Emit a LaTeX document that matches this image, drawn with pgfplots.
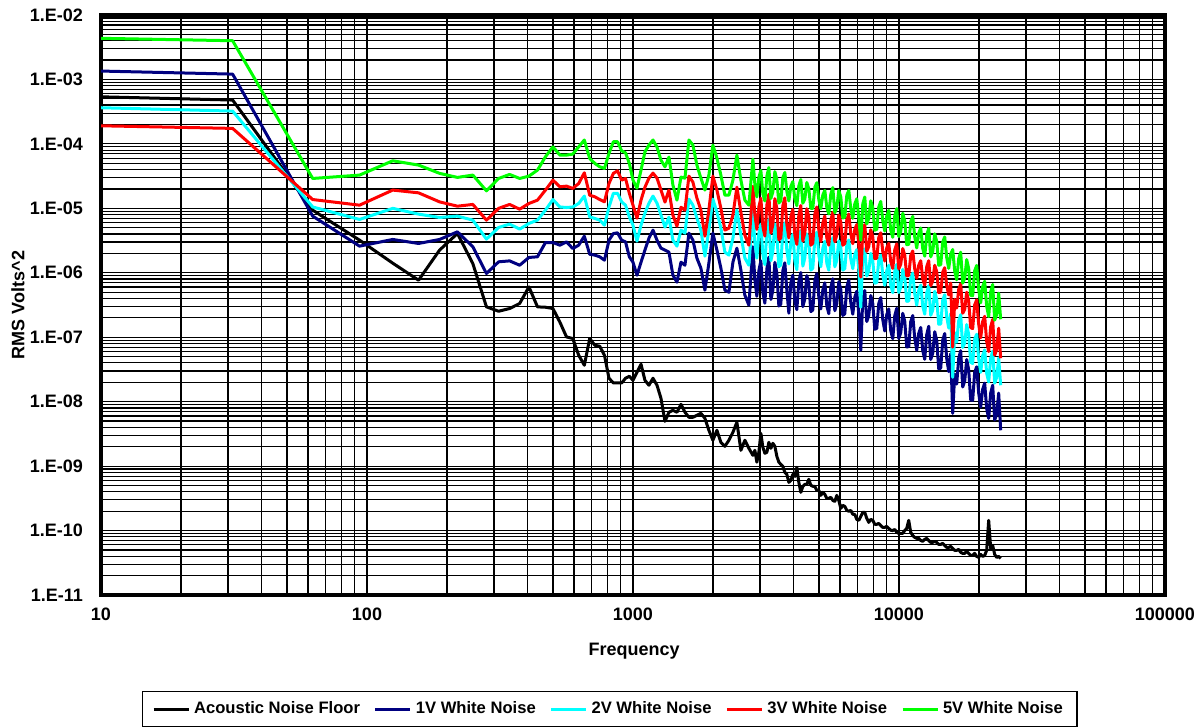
\documentclass[border=0pt]{standalone}
\usepackage{fontspec}
\setmainfont{Liberation Sans}
\usepackage{pgfplots}
\usepackage{pgfplotstable}
\pgfplotsset{compat=1.18}

\definecolor{navyline}{RGB}{0,0,128}
\definecolor{cyanline}{RGB}{0,255,255}
\definecolor{redline}{RGB}{255,0,0}
\definecolor{greenline}{RGB}{0,255,0}

% f = frequency, an = acoustic noise floor, v1..v5 = white noise drive levels
\pgfplotstableread{
f an v1 v2 v3 v5
10 5.38e-4 1.35e-3 3.64e-4 1.91e-4 4.35e-3
31.25 4.79e-4 1.21e-3 3.23e-4 1.74e-4 3.99e-3
62.5 9.38e-6 7.57e-6 1.05e-5 1.37e-5 2.91e-5
93.75 3.21e-6 2.59e-6 6.73e-6 1.12e-5 3.28e-5
125 1.41e-6 3.29e-6 1.0e-5 1.92e-5 5.47e-5
156.25 7.67e-7 2.85e-6 8.13e-6 1.74e-5 4.69e-5
187.5 2.25e-6 3.29e-6 7.22e-6 1.26e-5 3.49e-5
218.75 4.07e-6 4.32e-6 7.57e-6 1.08e-5 3.02e-5
250 1.39e-6 2.53e-6 6.56e-6 1.15e-5 3.28e-5
281.25 2.96e-7 9.75e-7 3.33e-6 6.56e-6 1.87e-5
312.5 2.53e-7 1.48e-6 5.05e-6 1.0e-5 2.91e-5
343.75 2.79e-7 1.53e-6 5.69e-6 1.15e-5 3.36e-5
375 3.34e-7 1.31e-6 4.76e-6 9.7e-6 2.91e-5
406.25 6.04e-7 1.73e-6 5.83e-6 1.19e-5 3.16e-5
437.5 2.96e-7 1.77e-6 6.56e-6 1.34e-5 3.92e-5
468.75 2.92e-7 2.95e-6 9.38e-6 1.92e-5 6.31e-5
500 2.79e-7 2.95e-6 1.37e-5 2.74e-5 9.0e-5
531.25 1.71e-7 2.68e-6 1.05e-5 2.16e-5 6.7e-5
562.5 1.01e-7 3.02e-6 1.03e-5 2.21e-5 6.7e-5
593.75 9.55e-8 2.38e-6 1.05e-5 2.04e-5 6.94e-5
625 5.25e-8 2.68e-6 1.19e-5 2.43e-5 9.0e-5
656.25 3.68e-8 3.7e-6 1.55e-5 3.56e-5 1.15e-4
687.5 9.55e-8 1.94e-6 7.38e-6 1.6e-5 5.95e-5
718.75 7.51e-8 1.88e-6 6.97e-6 1.51e-5 4.98e-5
750 7.25e-8 1.77e-6 6.56e-6 1.37e-5 4.41e-5
781.25 5.25e-8 1.57e-6 5.48e-6 1.26e-5 4.17e-5
812.5 2.31e-8 3.21e-6 1.05e-5 2.43e-5 7.12e-5
843.75 1.95e-8 4.07e-6 1.71e-5 3.49e-5 1.08e-4
875 1.95e-8 4.17e-6 1.71e-5 3.82e-5 1.08e-4
906.25 1.95e-8 3.21e-6 1.26e-5 2.74e-5 7.82e-5
937.5 2.31e-8 3.02e-6 1.12e-5 2.91e-5 7.27e-5
968.75 2.48e-8 1.77e-6 7.38e-6 1.71e-5 4.98e-5
1000 2.15e-8 1.46e-6 5.48e-6 1.12e-5 2.74e-5
1035 2.86e-8 9.17e-7 3.1e-6 7.04e-6 2.06e-5
1072 3.81e-8 1.46e-6 5.48e-6 1.34e-5 3.92e-5
1109 2.15e-8 2.25e-6 8.42e-6 2.13e-5 7.54e-5
1148 1.8e-8 3.44e-6 1.2e-5 2.94e-5 9.58e-5
1189 2.31e-8 4.59e-6 1.55e-5 3.52e-5 1.15e-4
1231 1.8e-8 3.21e-6 1.2e-5 2.94e-5 8.92e-5
1274 1.13e-8 2.41e-6 7.84e-6 1.92e-5 5.6e-5
1319 4.96e-9 2.25e-6 5.11e-6 1.25e-5 4.41e-5
1365 6.85e-9 2.09e-6 7.3e-6 1.92e-5 6.24e-5
1413 7.35e-9 9.17e-7 3.21e-6 7.84e-6 2.29e-5
1463 6.85e-9 7.14e-7 2.59e-6 5.29e-6 1.34e-5
1515 9.11e-9 1.46e-6 4.59e-6 1.04e-5 3.05e-5
1568 6.85e-9 1.31e-6 4.12e-6 9.38e-6 2.94e-5
1623 5.73e-9 4.12e-6 1.39e-5 3.16e-5 1.15e-4
1680 5.73e-9 3.21e-6 1.12e-5 2.55e-5 9.58e-5
1739 6.15e-9 1.69e-6 7.04e-6 1.44e-5 4.69e-5
1800 6.6e-9 1.18e-6 4.59e-6 9.38e-6 2.94e-5
1864 5.52e-9 5.37e-7 1.81e-6 3.7e-6 1.92e-5
1929 3.6e-9 1.41e-6 4.59e-6 9.38e-6 3.28e-5
1997 2.52e-9 4.12e-6 1.39e-5 3.16e-5 9.58e-5
2068 3.6e-9 2.25e-6 8.73e-6 1.92e-5 6.02e-5
2140 2.34e-9 1.18e-6 4.93e-6 1.0e-5 3.28e-5
2216 2.03e-9 5.37e-7 2.09e-6 4.59e-6 1.6e-5
2294 2.52e-9 5.0e-7 1.88e-6 4.93e-6 1.6e-5
2375 3.35e-9 1.46e-6 3.44e-6 7.84e-6 2.74e-5
2458 4.79e-9 2.41e-6 9.38e-6 2.13e-5 6.7e-5
2545 1.76e-9 1.1e-6 3.83e-6 8.73e-6 2.74e-5
2634 2.52e-9 4.49e-7 1.69e-6 3.83e-6 1.34e-5
2727 1.89e-9 3.14e-7 1.31e-6 2.68e-6 1.12e-5
2823 1.47e-9 2.54e-6 9.0e-6 2.2e-5 5.8e-5
2872 1.76e-9 7.79e-7 2.94e-6 7.93e-6 2.35e-5
2922 1.15e-9 4.32e-7 1.69e-6 4.72e-6 1.5e-5
2973 1.64e-9 1.08e-6 4.06e-6 1.05e-5 3.02e-5
3025 3.23e-9 1.53e-6 5.69e-6 1.43e-5 3.9e-5
3078 1.96e-9 4.93e-7 1.93e-6 5.24e-6 1.68e-5
3132 1.58e-9 3.37e-7 1.34e-6 3.71e-6 1.3e-5
3187 1.64e-9 1.16e-6 4.47e-6 1.13e-5 3.18e-5
3242 2.34e-9 1.75e-6 6.76e-6 1.66e-5 4.3e-5
3299 1.89e-9 3.85e-7 1.54e-6 4.12e-6 1.42e-5
3356 2.26e-9 5.33e-7 2.13e-6 5.56e-6 1.8e-5
3415 2.03e-9 1.45e-6 5.74e-6 1.41e-5 3.71e-5
3474 1.42e-9 1.0e-6 4.02e-6 1.0e-5 2.8e-5
3535 1.15e-9 3.05e-7 1.24e-6 3.25e-6 1.21e-5
3596 1.07e-9 3.27e-7 1.33e-6 3.46e-6 1.3e-5
3659 9.93e-10 1.08e-6 4.43e-6 1.1e-5 2.99e-5
3723 8.0e-10 1.43e-6 5.98e-6 1.46e-5 3.6e-5
3788 7.46e-10 5.41e-7 2.24e-6 5.62e-6 1.83e-5
3854 5.6e-10 2.36e-7 1.37e-6 3.47e-6 1.3e-5
3921 6.02e-10 6.99e-7 2.95e-6 7.3e-6 2.19e-5
3990 7.46e-10 9.2e-7 3.95e-6 9.7e-6 2.6e-5
4060 6.94e-10 3.66e-7 1.54e-6 3.81e-6 1.4e-5
4130 9.6e-10 2.68e-7 1.12e-6 2.76e-6 1.1e-5
4202 5.6e-10 7.27e-7 3.17e-6 7.79e-6 2.23e-5
4275 3.92e-10 1.01e-6 4.54e-6 1.11e-5 2.8e-5
4350 4.86e-10 2.99e-7 1.27e-6 3.11e-6 1.2e-5
4426 5.22e-10 3.94e-7 1.70e-6 4.17e-6 1.4e-5
4503 5.22e-10 9.05e-7 4.02e-6 9.86e-6 2.52e-5
4582 6.24e-10 6.76e-7 2.98e-6 7.3e-6 2.0e-5
4662 5.03e-10 2.5e-7 1.1e-6 2.68e-6 9.96e-6
4743 4.86e-10 2.65e-7 1.18e-6 2.88e-6 1.0e-5
4826 4.86e-10 7.46e-7 3.29e-6 8.13e-6 2.12e-5
4910 4.21e-10 9.7e-7 4.26e-6 1.05e-5 2.5e-5
4996 4.21e-10 4.2e-7 1.88e-6 4.6e-6 1.36e-5
5083 3.52e-10 2.75e-7 1.24e-6 3.06e-6 9.9e-6
5172 3.92e-10 5.39e-7 2.4e-6 5.91e-6 1.61e-5
5262 3.65e-10 7.0e-7 3.07e-6 7.62e-6 1.9e-5
5354 3.16e-10 3.06e-7 1.41e-6 3.47e-6 1.03e-5
5447 3.16e-10 2.32e-7 1.10e-6 2.68e-6 8.2e-6
5542 3.28e-10 5.87e-7 2.6e-6 6.47e-6 1.66e-5
5639 2.94e-10 8.1e-7 3.5e-6 8.7e-6 2.1e-5
5738 2.84e-10 2.58e-7 1.24e-6 3.03e-6 8.54e-6
5837 3.52e-10 3.34e-7 1.56e-6 3.83e-6 1.03e-5
5939 2.94e-10 7.27e-7 3.13e-6 7.87e-6 1.9e-5
6043 2.21e-10 5.52e-7 2.45e-6 6.13e-6 1.5e-5
6149 2.46e-10 2.18e-7 1.1e-6 2.68e-6 7.07e-6
6256 2.37e-10 2.31e-7 1.16e-6 2.84e-6 7.3e-6
6365 2.06e-10 6.04e-7 2.65e-6 6.63e-6 1.59e-5
6476 1.99e-10 7.73e-7 3.23e-6 8.18e-6 1.9e-5
6589 2.06e-10 3.45e-7 1.64e-6 4.06e-6 9.89e-6
6704 1.79e-10 2.28e-7 1.16e-6 2.83e-6 7.0e-6
6821 1.78e-10 4.17e-7 1.91e-6 4.7e-6 1.17e-5
6940 1.49e-10 5.18e-7 2.29e-6 5.62e-6 1.41e-5
7061 1.44e-10 2.31e-7 1.15e-6 2.8e-6 7.17e-6
7184 1.66e-10 6.28e-8 2.92e-7 8.55e-7 3.2e-6
7310 1.92e-10 4.03e-7 1.84e-6 4.44e-6 1.17e-5
7437 1.92e-10 5.33e-7 2.35e-6 5.59e-6 1.5e-5
7567 1.55e-10 1.75e-7 8.92e-7 2.15e-6 5.74e-6
7699 1.34e-10 2.17e-7 1.07e-6 2.56e-6 6.95e-6
7834 1.49e-10 4.44e-7 2.0e-6 4.65e-6 1.31e-5
7970 1.44e-10 3.33e-7 1.55e-6 3.61e-6 1.02e-5
8109 1.25e-10 1.33e-7 6.9e-7 1.66e-6 4.58e-6
8250 1.25e-10 1.37e-7 7.02e-7 1.68e-6 4.72e-6
8394 1.29e-10 3.34e-7 1.56e-6 3.53e-6 1.05e-5
8541 1.2e-10 4.12e-7 1.88e-6 4.18e-6 1.28e-5
8690 1.12e-10 1.88e-7 9.28e-7 2.15e-6 6.4e-6
8841 1.12e-10 1.25e-7 6.4e-7 1.52e-6 4.44e-6
8996 1.16e-10 2.24e-7 1.08e-6 2.44e-6 7.59e-6
9153 1.08e-10 2.75e-7 1.31e-6 2.87e-6 9.3e-6
9313 1.01e-10 1.26e-7 6.4e-7 1.49e-6 4.57e-6
9475 1.0e-10 9.5e-8 4.92e-7 1.17e-6 3.55e-6
9641 1.04e-10 2.16e-7 1.05e-6 2.28e-6 7.65e-6
9809 9.38e-11 2.82e-7 1.35e-6 2.82e-6 9.9e-6
9981 9.05e-11 9.58e-8 4.93e-7 1.15e-6 3.64e-6
10154 9.05e-11 1.18e-7 5.95e-7 1.36e-6 4.4e-6
10332 9.05e-11 2.35e-7 1.13e-6 2.38e-6 8.4e-6
10511 1.0e-10 1.76e-7 8.5e-7 1.88e-6 6.37e-6
10695 1.08e-10 7.04e-8 3.61e-7 8.95e-7 2.73e-6
10881 1.44e-10 7.17e-8 3.64e-7 9.08e-7 2.76e-6
11071 9.38e-11 1.75e-7 8.25e-7 1.85e-6 6.22e-6
11264 8.4e-11 2.17e-7 9.9e-7 2.18e-6 7.5e-6
11461 7.84e-11 9.68e-8 4.69e-7 1.15e-6 3.6e-6
11661 7.57e-11 6.28e-8 3.15e-7 8.24e-7 2.43e-6
11865 7.57e-11 1.15e-7 5.35e-7 1.31e-6 4.12e-6
12071 7.04e-11 1.42e-7 6.44e-7 1.54e-6 4.96e-6
12282 6.8e-11 6.22e-8 3.03e-7 8.13e-7 2.38e-6
12496 7.3e-11 4.55e-8 2.28e-7 6.42e-7 1.81e-6
12715 7.57e-11 1.1e-7 4.94e-7 1.24e-6 3.85e-6
12936 7.04e-11 1.48e-7 6.33e-7 1.54e-6 4.89e-6
13162 6.56e-11 4.51e-8 2.19e-7 6.33e-7 1.77e-6
13392 6.56e-11 5.64e-8 2.64e-7 7.46e-7 2.13e-6
13626 6.8e-11 1.22e-7 5.16e-7 1.31e-6 4.03e-6
13863 6.56e-11 8.9e-8 3.86e-7 1.04e-6 3.06e-6
14106 6.1e-11 3.24e-8 1.59e-7 4.94e-7 1.31e-6
14351 6.1e-11 3.3e-8 1.6e-7 5.01e-7 1.33e-6
14602 6.33e-11 9.02e-8 3.75e-7 1.02e-6 3.0e-6
14856 5.89e-11 1.14e-7 4.55e-7 1.2e-6 3.6e-6
15116 5.48e-11 4.7e-8 2.1e-7 6.35e-7 1.73e-6
15379 5.48e-11 2.93e-8 1.39e-7 4.54e-7 1.17e-6
15648 5.68e-11 5.56e-8 2.33e-7 6.94e-7 1.94e-6
15921 5.29e-11 6.6e-9 2.39e-8 7.0e-8 2.3e-6
16200 4.93e-11 2.69e-8 1.18e-7 3.88e-7 1.06e-6
16481 4.93e-11 1.87e-8 8.37e-8 2.84e-7 7.76e-7
16769 5.11e-11 4.69e-8 1.8e-7 5.54e-7 1.66e-6
17061 4.59e-11 6.19e-8 2.24e-7 6.73e-7 2.09e-6
17360 4.43e-11 1.69e-8 6.94e-8 2.36e-7 6.92e-7
17662 4.42e-11 2.08e-8 8.1e-8 2.69e-7 8.16e-7
17971 4.75e-11 4.52e-8 1.57e-7 5.0e-7 1.6e-6
18284 4.42e-11 3.13e-8 1.11e-7 3.62e-7 1.16e-6
18604 4.12e-11 1.06e-8 4.08e-8 1.41e-7 4.47e-7
18927 4.12e-11 1.05e-8 3.92e-8 1.36e-7 4.41e-7
19258 4.43e-11 2.83e-8 9.41e-8 3.18e-7 1.07e-6
19594 3.97e-11 3.48e-8 1.11e-7 3.8e-7 1.3e-6
19937 3.84e-11 1.36e-8 4.62e-8 1.6e-7 5.5e-7
20283 4.27e-11 8.22e-9 2.85e-8 9.8e-8 3.42e-7
20638 3.98e-11 1.56e-8 5.2e-8 1.75e-7 6.13e-7
20997 4.12e-11 1.94e-8 6.37e-8 2.11e-7 7.38e-7
21364 4.93e-11 7.79e-9 2.76e-8 8.61e-8 3.01e-7
21737 1.44e-10 5.5e-9 2.02e-8 6.0e-8 2.09e-7
22117 5.29e-11 1.36e-8 4.69e-8 1.45e-7 5.05e-7
22502 5.89e-11 1.8e-8 6.08e-8 1.89e-7 6.58e-7
22896 4.27e-11 5.2e-9 1.94e-8 5.27e-8 1.84e-7
23294 3.83e-11 6.42e-9 2.37e-8 6.42e-8 2.25e-7
23702 3.98e-11 1.36e-8 4.77e-8 1.38e-7 4.84e-7
24114 3.7e-11 3.6e-9 1.8e-8 4.72e-8 1.9e-7
}\noisedata

\begin{document}
\begin{tikzpicture}
\path[use as bounding box] (-50.5pt,-66.5pt) rectangle (549.5pt,297.5pt);
\begin{axis}[
  at={(0pt,0pt)}, anchor=south west,
  scale only axis, width=532pt, height=290pt,
  xmode=log, ymode=log,
  xmin=10, xmax=100000, ymin=1e-11, ymax=1e-2,
  xtick={10,100,1000,10000,100000},
  xticklabels={10,100,1000,10000,100000},
  ytick={1e-11,1e-10,1e-9,1e-8,1e-7,1e-6,1e-5,1e-4,1e-3,1e-2},
  yticklabels={1.E-11,1.E-10,1.E-09,1.E-08,1.E-07,1.E-06,1.E-05,1.E-04,1.E-03,1.E-02},
  grid=both,
  major grid style={black, line width=0.6pt},
  minor grid style={black, line width=0.6pt},
  major tick length=0pt, minor tick length=0pt,
  axis line style={line width=1.8pt},
  tick label style={font=\bfseries\fontsize{9}{10}\selectfont},
  xticklabel shift=3pt, yticklabel shift=5.5pt,
  xlabel={Frequency}, ylabel={RMS Volts\textasciicircum 2},
  label style={font=\bfseries\fontsize{9}{10}\selectfont},
  xlabel style={at={(axis description cs:0.501,-0.097)}, anchor=center},
  ylabel style={at={(axis description cs:-0.078,0.5)}, anchor=center},
  legend columns=5,
  legend style={at={(axis description cs:0.478,-0.197)}, anchor=center,
    draw=black, line width=0.6pt, inner xsep=5pt, inner ysep=3pt,
    font=\bfseries\fontsize{8.3}{10}\selectfont,
    /tikz/every even column/.append style={column sep=5pt}},
  legend image code/.code={\draw[#1, line width=1.4pt] (0pt,0pt) -- (17.5pt,0pt);},
  every axis plot/.append style={line width=1.5pt, line join=round},
]
\addplot[black] table[x=f, y=an] {\noisedata};
\addplot[navyline] table[x=f, y=v1] {\noisedata};
\addplot[cyanline] table[x=f, y=v2] {\noisedata};
\addplot[redline] table[x=f, y=v3] {\noisedata};
\addplot[greenline] table[x=f, y=v5] {\noisedata};
\legend{Acoustic Noise Floor, 1V White Noise, 2V White Noise, 3V White Noise, 5V White Noise}
\end{axis}
\end{tikzpicture}
\end{document}
